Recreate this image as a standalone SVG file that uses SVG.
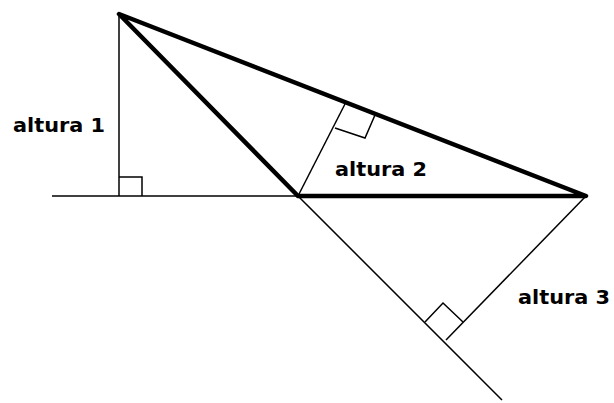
<svg xmlns="http://www.w3.org/2000/svg" width="614" height="403" viewBox="0 0 614 403">
<style>
.thin{stroke:#000;stroke-width:1.5;fill:none}
.thick{stroke:#000;stroke-width:4.5;fill:none;stroke-linecap:round;stroke-linejoin:round}
.lbl{font-family:"DejaVu Sans",Verdana,sans-serif;font-weight:bold;font-size:19px;fill:#000}
</style>
<rect width="614" height="403" fill="#fff"/>
<g id="connectors">
<line class="thin" x1="52" y1="196" x2="298" y2="196"/>
<line class="thin" x1="298" y1="196" x2="502" y2="400"/>
<line class="thin" x1="119" y1="14" x2="119" y2="196"/>
<line class="thin" x1="298" y1="196" x2="345" y2="104"/>
<line class="thin" x1="586" y1="196" x2="446" y2="340"/>
</g>
<g id="triangle">
<polyline class="thick" points="298,196 119,14 586,196 298,196"/>
</g>
<g id="right-angles">
<polyline class="thin" points="119,177 142,177 142,196"/>
<polyline class="thin" points="375,115 365,138 335,128"/>
<polyline class="thin" points="425,322 443,303 463,322"/>
</g>
<g id="labels">
<text class="lbl" x="13" y="132" textLength="92" lengthAdjust="spacingAndGlyphs">altura 1</text>
<text class="lbl" x="335" y="176" textLength="92" lengthAdjust="spacingAndGlyphs">altura 2</text>
<text class="lbl" x="518" y="304" textLength="92" lengthAdjust="spacingAndGlyphs">altura 3</text>
</g>
</svg>
